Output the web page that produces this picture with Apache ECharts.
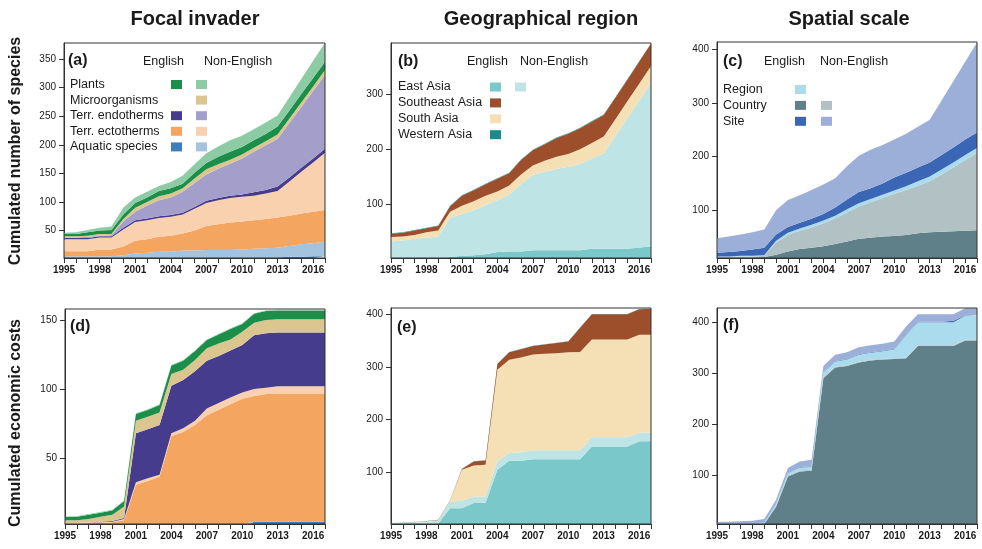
<!DOCTYPE html>
<html><head><meta charset="utf-8">
<script src="https://cdn.jsdelivr.net/npm/echarts@6/dist/echarts.min.js"></script>
<style>html,body{margin:0;padding:0;background:#fff}#c{width:982px;height:549px}</style>
</head><body><div id="c"></div>
<script>
// ---------- data ----------
const years = [1995,1996,1997,1998,1999,2000,2001,2002,2003,2004,2005,2006,2007,2008,2009,2010,2011,2012,2013,2014,2015,2016,2017];

// (a) focal invader - species
const aAquaticEng = [3,3,3,3,3,3,3,3,3,3,3,3,3,3,3,3,3,3,3,4,4,5,5];
const aAquaticNon = [2,2,2,2,2,4,7,8,10,10,12,12,13,13,13,14,15,16,17,19,22,23,26];
const aEctoEng    = [9,9,9,12,12,15,22,24,26,28,30,35,42,45,48,49,50,51,53,53,54,55,55];
const aEctoNon    = [21,21,21,21,21,30,33,33,33,33,33,38,40,42,43,43,43,45,46,60,73,86,100];
const aEndoEng    = [2,2,2,2,2,3,3,3,3,3,3,3,4,4,4,4,6,6,8,7,7,7,7];
const aEndoNon    = [1,1,2,1,2,11,15,23,28,31,37,42,46,51,56,63,71,78,83,95,106,118,129];
const aMicroNon   = [2,2,2,3,2,4,7,6,7,7,6,8,9,8,7,7,7,7,8,8,8,8,9];
const aPlantsEng  = [4,4,6,6,7,8,8,8,9,9,8,10,11,13,14,13,13,13,14,14,15,15,14];
const aPlantsNon  = [2,3,4,5,6,12,10,10,9,11,14,15,17,18,20,20,19,20,19,23,26,30,33];

// (b) geographical region - species
const bEastEng   = [2,2,2,2,2,5,7,8,10,14,15,15,17,17,17,17,17,20,20,20,20,22,24];
const bEastNon   = [31,33,36,38,40,71,76,82,89,94,103,122,137,143,148,152,157,164,173,205,237,267,297];
const bSouth     = [8,7,7,10,11,11,15,16,17,16,17,18,17,20,22,23,27,28,31,31,31,31,31];
const bSoutheast = [6,7,8,7,8,10,18,20,21,23,22,26,28,30,34,37,38,39,39,39,39,40,41];
const bWestern   = [1,1,1,1,1,1,1,1,1,1,1,1,1,1,1,1,1,1,1,1,1,1,1];

// (c) spatial scale - species
const cCountryEng = [11,11,12,12,13,17,23,28,30,33,37,42,47,49,51,52,54,57,59,60,61,62,63];
const cCountryNon = [2,2,2,2,2,23,31,34,38,43,48,54,60,66,72,79,84,89,95,107,119,132,144];
const cRegionEng  = [1,1,1,1,1,3,4,4,5,5,5,6,6,6,6,6,7,8,9,9,9,9,9];
const cSiteEng    = [7,8,9,12,14,12,11,11,11,12,15,18,21,20,21,24,25,26,26,27,28,29,29];
const cSiteNon    = [27,29,31,32,34,45,50,51,54,55,55,62,68,72,72,71,73,76,80,102,124,145,168];

// (d) focal invader - costs
const dAquaticEng = [0,0,0,0,0,0,0,0,0,0,0,0,0,0,0,0,4,4,4,4,4,4,4];
const dAquaticNon = [0,0,0,0,0,0,0,0,0,0,0,0,0,0,0,0,0,0,0,0,0,0,0];
const dEctoEng    = [2.5,2.5,3,3,3.5,5,30.7,33.5,36.5,66,69,74,81,85,89,93,91,92.5,92.5,92.5,92.5,92.5,92.5];
const dEctoNon    = [0.5,0.5,0.5,0.5,0.5,1,1.9,2,1.5,2,2.7,3,5,5,5,4.5,5,4.5,5.5,5.5,5.5,5.5,5.5];
const dEndoEng    = [0,0,0,0.5,0.5,0.6,35.4,35.5,36,34.5,34.9,36,34.6,34,34,34.5,39,39.5,39,39,39,39,39];
const dEndoNon    = [0,0,0,0,0,0,0,0,0,0,0,0,0,0,0,0,0,0,0,0,0,0,0];
const dMicroNon   = [2,2,2.5,3.5,4.5,8.4,9,9,9,8.5,7.4,8,8.9,9,8,9.6,9,9.5,9.5,9.5,9.5,9.5,9.5];
const dPlantsEng  = [2.3,2.5,3,3,3.1,3.9,5,4.9,5.5,6,6.5,6.5,6,6.5,7.5,5.5,6.5,6.5,6.5,6.5,6.5,6.5,6.5];
const dPlantsNon  = [0.5,0.5,0.5,0.5,0.5,0.5,0.5,0.5,0.5,0.5,0.5,0.5,0.5,0.5,0.5,0.5,0.5,0.5,0.5,0.5,0.5,0.5,0.5];

// (e) geographical region - costs
const eEastEng   = [2,2,2,2.5,3,32,32,42,42,105,122,122,125,125,125,125,125,149,149,149,149,159,159];
const eEastNon   = [1,1.5,2.5,3.5,5,12,14,12.4,12.4,16,15,16,17,17,17,17,17,17.5,17.5,17.5,17.5,16,16];
const eSouth     = [0.3,0.5,1,1,1,2,59,58.6,60.2,174,177,180,181.5,183,184,186,186.5,185.5,185.5,185.5,185.5,186,186];
const eSoutheast = [0,0,0,0,0.5,0.5,1.5,7.5,7.9,10.5,14,15.5,16.5,17.5,19.5,20.5,46,48.2,48.2,48.2,48.2,48.5,49.5];
const eWestern   = [0.5,0.5,0.5,0.5,0.5,0.5,0.5,0.5,0.5,0.5,0.5,0.5,0.5,0.5,0.5,0.5,0.5,0.5,0.5,0.5,0.5,0.5,0.5];

// (f) spatial scale - costs
const fCountryEng = [3,3,3,3,4,38,97,107,108.5,290,311,314,321,325,327,328,329.4,353.6,353.6,353.6,353.6,364,364];
const fCountryNon = [1,1,1,1,1,2,2,2,2.5,3,1.5,1.5,1.5,1.5,1.5,1.5,1.6,1.4,1.4,1.4,1.4,1.5,1.5];
const fRegionEng  = [1,1,1,1,1,4,5,6,5,9,10.5,11.5,13.5,13.5,14.5,17,44,45,45,45,45,47.5,47.5];
const fSiteEng    = [0.5,0.5,0.5,0.5,0.5,1,1,1,1,1,1,1,1,1,1,1.2,1,1,1,1,3,1,1];
const fSiteNon    = [2.3,3,4,5,7.2,6.6,8.7,10.8,13,11,12,13,14,14,14,14.3,15.5,14.7,14.7,14.7,12.7,13.5,13.5];

// y tick labels
const ticksA = [50,100,150,200,250,300,350];
const ticksB = [100,200,300];
const ticksC = [100,200,300,400];
const ticksD = [50,100,150];
const ticksE = [100,200,300,400];
const ticksF = [100,200,300,400];

// ---------- styles ----------
const C = {
  plantsEng:'#1b8e4a', plantsNon:'#8ccba4', micro:'#dcc68f', endoEng:'#453c8e', endoNon:'#a39fca',
  ectoEng:'#f4a55f', ectoNon:'#f9d1ae', aqEng:'#3d7fbd', aqNon:'#a4c3df',
  eastEng:'#7bc8ca', eastNon:'#bee4e6', southeast:'#9d4f2b', south:'#f5dfb4', western:'#1f8a8a',
  region:'#aadcee', countryEng:'#608089', countryNon:'#b2c2c4', siteEng:'#3b66b5', siteNon:'#9cafd8'
};
const FONT = '"Liberation Sans", Arial, Helvetica, sans-serif';

const panels = [
  {g:{l:64,t:43,w:261,h:215}, min:2, max:378, ticks:ticksA, layers:[
    [aAquaticEng,C.aqEng],[aAquaticNon,C.aqNon],[aEctoEng,C.ectoEng],[aEctoNon,C.ectoNon],
    [aEndoEng,C.endoEng],[aEndoNon,C.endoNon],[aMicroNon,C.micro],[aPlantsEng,C.plantsEng],[aPlantsNon,C.plantsNon]]},
  {g:{l:391,t:43,w:260,h:215}, min:3, max:394, ticks:ticksB, layers:[
    [bEastEng,C.eastEng],[bEastNon,C.eastNon],[bSouth,C.south],[bSoutheast,C.southeast],[bWestern,C.western]]},
  {g:{l:717,t:42,w:260,h:216}, min:11, max:414, ticks:ticksC, layers:[
    [cCountryEng,C.countryEng],[cCountryNon,C.countryNon],[cRegionEng,C.region],[cSiteEng,C.siteEng],[cSiteNon,C.siteNon]]},
  {g:{l:65,t:309,w:260,h:215}, min:2.3, max:158, ticks:ticksD, layers:[
    [dAquaticEng,C.aqEng],[dAquaticNon,C.aqNon],[dEctoEng,C.ectoEng],[dEctoNon,C.ectoNon],
    [dEndoEng,C.endoEng],[dEndoNon,C.endoNon],[dMicroNon,C.micro],[dPlantsEng,C.plantsEng],[dPlantsNon,C.plantsNon]]},
  {g:{l:391,t:308,w:260,h:216}, min:2, max:412, ticks:ticksE, layers:[
    [eEastEng,C.eastEng],[eEastNon,C.eastNon],[eSouth,C.south],[eSoutheast,C.southeast],[eWestern,C.western]]},
  {g:{l:717,t:308,w:260,h:216}, min:4, max:428, ticks:ticksF, layers:[
    [fCountryEng,C.countryEng],[fCountryNon,C.countryNon],[fRegionEng,C.region],[fSiteEng,C.siteEng],[fSiteNon,C.siteNon]]}
];

const grid=[], xAxis=[], yAxis=[], series=[], graphic=[];
panels.forEach((p,i)=>{
  grid.push({left:p.g.l, top:p.g.t, width:p.g.w, height:p.g.h, containLabel:false});
  xAxis.push({gridIndex:i, type:'category', data:years, boundaryGap:false,
    axisLine:{show:true, lineStyle:{color:'#333', width:1}},
    axisTick:{show:true, interval:0, length:5, inside:false, lineStyle:{color:'#333'}},
    axisLabel:{interval:2, fontSize:10, fontWeight:'bold', color:'#1a1a1a', margin:7, fontFamily:FONT},
    splitLine:{show:false}});
  yAxis.push({gridIndex:i, type:'value', min:p.min, max:p.max,
    axisLine:{show:true, lineStyle:{color:'#333', width:1}},
    axisTick:{show:true, length:5, customValues:p.ticks, lineStyle:{color:'#333'}},
    axisLabel:{customValues:p.ticks, fontSize:10, color:'#1a1a1a', margin:8, fontFamily:FONT},
    splitLine:{show:false}});
  p.layers.forEach((ly,j)=>{
    series.push({type:'line', xAxisIndex:i, yAxisIndex:i, stack:'s'+i, data:ly[0],
      symbol:'none', silent:true, animation:false,
      lineStyle:{width:0, color:ly[1]}, areaStyle:{color:ly[1], opacity:1}});
  });
  graphic.push({type:'rect', z:100, silent:true, shape:{x:p.g.l, y:p.g.t, width:p.g.w, height:p.g.h},
    style:{fill:'transparent', stroke:'#333', lineWidth:1}});
});

function txt(text, x, y, size, weight, align, extra){
  return Object.assign({type:'text', z:110, silent:true, x:x, y:y,
    style:{text:text, x:0, y:0, fontSize:size, fontWeight:weight||'normal', fontFamily:FONT,
      fill:'#1a1a1a', align:align||'left', textAlign:align||'left', verticalAlign:'middle', textVerticalAlign:'middle'}}, extra||{});
}
function sq(x, y, color){
  return {type:'rect', z:110, silent:true, shape:{x:x, y:y, width:11, height:9}, style:{fill:color}};
}

// titles
graphic.push(txt('Focal invader', 195, 19, 20, 'bold', 'center'));
graphic.push(txt('Geographical region', 541, 19, 20, 'bold', 'center'));
graphic.push(txt('Spatial scale', 849, 19, 20, 'bold', 'center'));
graphic.push(txt('Cumulated number of species', 16, 151, 16, 'bold', 'center', {rotation:Math.PI/2}));
graphic.push(txt('Cumulated economic costs', 16, 423, 16, 'bold', 'center', {rotation:Math.PI/2}));

// panel letters
graphic.push(txt('(a)', 68, 61, 16, 'bold'));
graphic.push(txt('(b)', 398, 62, 16, 'bold'));
graphic.push(txt('(c)', 723, 62, 16, 'bold'));
graphic.push(txt('(d)', 70, 327, 16, 'bold'));
graphic.push(txt('(e)', 397, 328, 16, 'bold'));
graphic.push(txt('(f)', 723, 326, 16, 'bold'));

// legend (a)
graphic.push(txt('English', 143, 62, 12.5));
graphic.push(txt('Non-English', 204, 62, 12.5));
const aRows = [['Plants',C.plantsEng,C.plantsNon],['Microorganisms',null,C.micro],['Terr. endotherms',C.endoEng,C.endoNon],
  ['Terr. ectotherms',C.ectoEng,C.ectoNon],['Aquatic species',C.aqEng,C.aqNon]];
aRows.forEach((r,k)=>{
  const yt = 80 + k*15.6;
  graphic.push(txt(r[0], 70, yt+4.5, 12.5));
  if(r[1]) graphic.push(sq(171, yt, r[1]));
  if(r[2]) graphic.push(sq(196, yt, r[2]));
});
// legend (b)
graphic.push(txt('English', 467, 62, 12.5));
graphic.push(txt('Non-English', 520, 62, 12.5));
const bRows = [['East Asia',C.eastEng,C.eastNon],['Southeast Asia',C.southeast,null],['South Asia',C.south,null],['Western Asia',C.western,null]];
bRows.forEach((r,k)=>{
  const yt = 82.5 + k*15.9;
  graphic.push(txt(r[0], 398, yt+4.5, 12.5));
  if(r[1]) graphic.push(sq(490, yt, r[1]));
  if(r[2]) graphic.push(sq(515, yt, r[2]));
});
// legend (c)
graphic.push(txt('English', 764, 62, 12.5));
graphic.push(txt('Non-English', 820, 62, 12.5));
const cRows = [['Region',C.region,null],['Country',C.countryEng,C.countryNon],['Site',C.siteEng,C.siteNon]];
cRows.forEach((r,k)=>{
  const yt = 85 + k*15.9;
  graphic.push(txt(r[0], 723, yt+4.5, 12.5));
  if(r[1]) graphic.push(sq(795, yt, r[1]));
  if(r[2]) graphic.push(sq(821, yt, r[2]));
});

const chart = echarts.init(document.getElementById('c'), null, {renderer:'canvas'});
chart.setOption({animation:false, backgroundColor:'#fff', grid, xAxis, yAxis, series, graphic});
</script></body></html>
